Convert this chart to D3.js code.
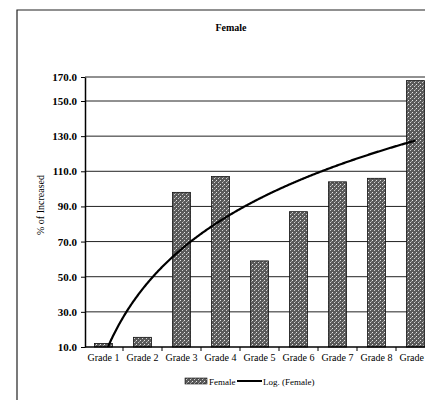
<!DOCTYPE html>
<html><head><meta charset="utf-8">
<script src="https://cdn.jsdelivr.net/npm/d3@7"></script>
<style>
html,body{margin:0;padding:0;background:#fff;}
svg{display:block;font-family:"Liberation Serif","DejaVu Serif",serif;}
</style></head>
<body>
<svg id="chart" width="425" height="400"></svg>
<script>
const categories = ["Grade 1","Grade 2","Grade 3","Grade 4","Grade 5","Grade 6","Grade 7","Grade 8","Grade 9"];
const femaleValues = [12, 15.5, 98, 107, 59, 87, 104, 106, 167];
const yTicks = [10, 30, 50, 70, 90, 110, 130, 150, 170];
const chartTitle = "Female";
const yTitle = "% of Increased";
const legendLabels = ["Female", "Log. (Female)"];

const svg = d3.select("#chart");
const plotLeft = 85, plotRight = 435, plotTop = 77, plotBottom = 347;

// pattern for stippled bars
const defs = svg.append("defs");
const pat = defs.append("pattern").attr("id","stipple").attr("patternUnits","userSpaceOnUse")
  .attr("width",4).attr("height",4);
pat.append("rect").attr("width",4).attr("height",4).attr("fill","#5a5a5a");
pat.append("rect").attr("x",0).attr("y",0).attr("width",1).attr("height",1).attr("fill","#e8e8e8");
pat.append("rect").attr("x",2).attr("y",2).attr("width",1).attr("height",1).attr("fill","#d0d0d0");
pat.append("rect").attr("x",3).attr("y",1).attr("width",1).attr("height",1).attr("fill","#999");
defs.append("clipPath").attr("id","plotclip").append("rect")
  .attr("x",plotLeft).attr("y",plotTop).attr("width",plotRight-plotLeft).attr("height",plotBottom-plotTop);

// outer chart border
svg.append("path").attr("d","M17,400 L17,10 L425,10").attr("fill","none")
  .attr("stroke","#222").attr("stroke-width",1.2);

const x = d3.scaleBand().domain(categories).range([plotLeft-1, plotRight])
  .paddingInner(0.54).paddingOuter(0.27);
const y = d3.scaleLinear().domain([10,150,170]).range([plotBottom,101,plotTop]);

// gridlines
svg.append("g").selectAll("line").data(yTicks.slice(1)).join("line")
  .attr("x1",plotLeft).attr("x2",425).attr("y1",d=>y(d)).attr("y2",d=>y(d))
  .attr("stroke","#222").attr("stroke-width",1);

// bars
svg.append("g").selectAll("rect").data(femaleValues).join("rect")
  .attr("x",(d,i)=>x(categories[i])).attr("width",x.bandwidth())
  .attr("y",d=>y(d)).attr("height",d=>y(10)-y(d))
  .attr("fill","url(#stipple)").attr("stroke","#111").attr("stroke-width",0.8);

// logarithmic trendline (least squares fit of y = a ln(k) + b over the data)
const lnk = femaleValues.map((d,i)=>Math.log(i+1));
const mx = d3.mean(lnk), my = d3.mean(femaleValues);
const a = d3.sum(lnk.map((v,i)=>(v-mx)*(femaleValues[i]-my))) / d3.sum(lnk.map(v=>(v-mx)*(v-mx)));
const b = my - a*mx;
const kx = d3.scaleLinear().domain([1, categories.length])
  .range([x(categories[0])+x.bandwidth()/2, x(categories[categories.length-1])+x.bandwidth()/2]);
const trendPts = d3.range(1, categories.length+0.001, 0.02).map(k=>[kx(k), y(a*Math.log(k)+b)]);
svg.append("path").attr("clip-path","url(#plotclip)")
  .attr("d", d3.line()(trendPts)).attr("fill","none").attr("stroke","#000").attr("stroke-width",2.2);

// y axis
const yAxis = svg.append("g").attr("transform",`translate(${plotLeft},0)`)
  .call(d3.axisLeft(y).tickValues(yTicks).tickFormat(d3.format(".1f")).tickSize(4).tickSizeOuter(0));
yAxis.select(".domain").attr("stroke","#000").attr("stroke-width",1.5);
yAxis.selectAll("text").attr("font-size","11px").attr("font-weight","bold")
  .attr("font-family","Liberation Serif, serif").attr("dx","-1");

// x axis
const xAxis = svg.append("g").attr("transform",`translate(0,${plotBottom})`)
  .call(d3.axisBottom(x).tickSize(0).tickSizeOuter(0).tickPadding(7));
xAxis.select(".domain").attr("stroke","#000").attr("stroke-width",1.5)
  .attr("d",`M${plotLeft},0H425`);
xAxis.selectAll("text").attr("font-size","10px").attr("font-family","Liberation Serif, serif");
svg.append("g").selectAll("line").data(categories.slice(1)).join("line")
  .attr("x1",d=>x(d)-x.step()*x.paddingInner()/2).attr("x2",d=>x(d)-x.step()*x.paddingInner()/2)
  .attr("y1",plotBottom).attr("y2",plotBottom+4).attr("stroke","#000");

// title
svg.append("text").attr("x",231).attr("y",31).attr("text-anchor","middle")
  .attr("font-size","10px").attr("font-weight","bold").text(chartTitle);
// y title
svg.append("text").attr("transform","translate(44,205) rotate(-90)").attr("text-anchor","middle")
  .attr("font-size","10px").text(yTitle);

// legend
const lg = svg.append("g").attr("transform","translate(0,381)");
lg.append("rect").attr("x",185).attr("y",-3).attr("width",22).attr("height",6)
  .attr("fill","url(#stipple)").attr("stroke","#111").attr("stroke-width",0.6);
lg.append("text").attr("x",209).attr("y",3.5).attr("font-size","9px").text(legendLabels[0]);
lg.append("line").attr("x1",237).attr("x2",262).attr("y1",0).attr("y2",0)
  .attr("stroke","#000").attr("stroke-width",2);
lg.append("text").attr("x",263).attr("y",3.5).attr("font-size","9px").text(legendLabels[1]);
</script>
</body></html>
